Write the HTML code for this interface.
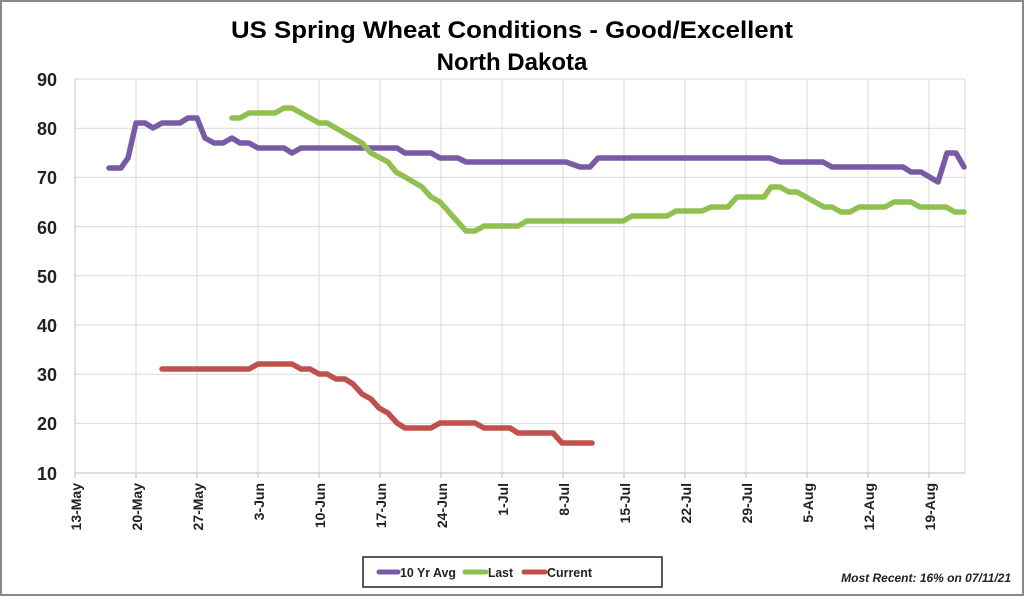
<!DOCTYPE html>
<html><head><style>body{margin:0;background:#fff}svg{display:block;font-family:"Liberation Sans",sans-serif}</style></head>
<body>
<svg width="1024" height="596" viewBox="0 0 1024 596">
<rect x="1" y="1" width="1022" height="594" fill="#fff" stroke="#888" stroke-width="2"/>
<text x="512" y="38" text-anchor="middle" font-size="24" font-weight="bold" textLength="562" lengthAdjust="spacingAndGlyphs">US Spring Wheat Conditions - Good/Excellent</text>
<text x="512" y="70" text-anchor="middle" font-size="24" font-weight="bold">North Dakota</text>
<g stroke="#d9d9d9" stroke-width="1">
<line x1="75" y1="79" x2="965" y2="79"/><line x1="75" y1="128.2" x2="965" y2="128.2"/><line x1="75" y1="177.4" x2="965" y2="177.4"/><line x1="75" y1="226.6" x2="965" y2="226.6"/><line x1="75" y1="275.8" x2="965" y2="275.8"/><line x1="75" y1="325" x2="965" y2="325"/><line x1="75" y1="374.2" x2="965" y2="374.2"/><line x1="75" y1="423.4" x2="965" y2="423.4"/>
<line x1="136" y1="79" x2="136" y2="473"/><line x1="197" y1="79" x2="197" y2="473"/><line x1="258" y1="79" x2="258" y2="473"/><line x1="319" y1="79" x2="319" y2="473"/><line x1="380" y1="79" x2="380" y2="473"/><line x1="441" y1="79" x2="441" y2="473"/><line x1="502" y1="79" x2="502" y2="473"/><line x1="563" y1="79" x2="563" y2="473"/><line x1="624" y1="79" x2="624" y2="473"/><line x1="685" y1="79" x2="685" y2="473"/><line x1="746" y1="79" x2="746" y2="473"/><line x1="807" y1="79" x2="807" y2="473"/><line x1="868" y1="79" x2="868" y2="473"/><line x1="929" y1="79" x2="929" y2="473"/><line x1="965" y1="79" x2="965" y2="473"/>
</g>
<line x1="75" y1="79" x2="75" y2="473" stroke="#bfbfbf"/>
<line x1="75" y1="473" x2="965" y2="473" stroke="#bfbfbf"/>
<g stroke="#bfbfbf"><line x1="75" y1="473" x2="75" y2="478"/><line x1="136" y1="473" x2="136" y2="478"/><line x1="197" y1="473" x2="197" y2="478"/><line x1="258" y1="473" x2="258" y2="478"/><line x1="319" y1="473" x2="319" y2="478"/><line x1="380" y1="473" x2="380" y2="478"/><line x1="441" y1="473" x2="441" y2="478"/><line x1="502" y1="473" x2="502" y2="478"/><line x1="563" y1="473" x2="563" y2="478"/><line x1="624" y1="473" x2="624" y2="478"/><line x1="685" y1="473" x2="685" y2="478"/><line x1="746" y1="473" x2="746" y2="478"/><line x1="807" y1="473" x2="807" y2="478"/><line x1="868" y1="473" x2="868" y2="478"/><line x1="929" y1="473" x2="929" y2="478"/></g>
<g font-size="18" font-weight="bold" text-anchor="end" fill="#222">
<text x="57" y="86">90</text><text x="57" y="135">80</text><text x="57" y="184">70</text><text x="57" y="234">60</text><text x="57" y="283">50</text><text x="57" y="332">40</text><text x="57" y="381">30</text><text x="57" y="430">20</text><text x="57" y="480">10</text>
</g>
<g font-size="14" font-weight="bold" text-anchor="end" fill="#222">
<text transform="translate(81,483) rotate(-90)">13-May</text><text transform="translate(142,483) rotate(-90)">20-May</text><text transform="translate(203,483) rotate(-90)">27-May</text><text transform="translate(264,483) rotate(-90)">3-Jun</text><text transform="translate(325,483) rotate(-90)">10-Jun</text><text transform="translate(386,483) rotate(-90)">17-Jun</text><text transform="translate(447,483) rotate(-90)">24-Jun</text><text transform="translate(508,483) rotate(-90)">1-Jul</text><text transform="translate(569,483) rotate(-90)">8-Jul</text><text transform="translate(630,483) rotate(-90)">15-Jul</text><text transform="translate(691,483) rotate(-90)">22-Jul</text><text transform="translate(752,483) rotate(-90)">29-Jul</text><text transform="translate(813,483) rotate(-90)">5-Aug</text><text transform="translate(874,483) rotate(-90)">12-Aug</text><text transform="translate(935,483) rotate(-90)">19-Aug</text>
</g>
<g fill="none" stroke-width="5.5" stroke-linejoin="round" stroke-linecap="round">
<polyline stroke="#7a5aa6" points="109,168 121,168 128,158 136,123 145,123 153,128 162,123 180,123 188,118 197,118 205,138 214,143 223,143 232,138 240,143 249,143 258,148 284,148 292,153 301,148 397,148 405,153 431,153 440,158 458,158 466,162 566,162 580,167 590,167 598,158 770,158 780,162 823,162 832,167 903,167 911,172 921,172 938,182 947,153 956,153 964,167"/>
<polyline stroke="#92c050" points="232,118 240,118 249,113 275,113 284,108 292,108 301,113 319,123 327,123 362,143 371,153 388,162 396,172 405,177 422,187 431,197 440,202 449,212 457,221 466,231 475,231 484,226 518,226 527,221 623,221 632,216 667,216 676,211 702,211 711,207 728,207 737,197 764,197 771,187 780,187 789,192 797,192 815,202 824,207 832,207 841,212 850,212 859,207 885,207 894,202 911,202 920,207 946,207 955,212 964,212"/>
<polyline stroke="#c0504d" points="162,369 249,369 258,364 292,364 301,369 310,369 319,374 327,374 336,379 345,379 353,384 362,394 371,399 379,408 388,413 397,423 405,428 431,428 440,423 475,423 484,428 510,428 518,433 553,433 562,443 592,443"/>
</g>
<rect x="363" y="557" width="299" height="30" fill="#fff" stroke="#222" stroke-width="1.5"/>
<g stroke-width="5" stroke-linecap="round"><line x1="379" y1="572" x2="398" y2="572" stroke="#7a5aa6"/><line x1="465" y1="572" x2="486" y2="572" stroke="#92c050"/><line x1="524" y1="572" x2="545" y2="572" stroke="#c0504d"/></g>
<g font-size="13" font-weight="bold" fill="#222"><text x="400" y="577" textLength="56" lengthAdjust="spacingAndGlyphs">10 Yr Avg</text><text x="488" y="577" textLength="25" lengthAdjust="spacingAndGlyphs">Last</text><text x="547" y="577" textLength="45" lengthAdjust="spacingAndGlyphs">Current</text></g>
<text x="1011" y="582" text-anchor="end" font-size="12" font-weight="bold" font-style="italic" fill="#222">Most Recent: 16% on 07/11/21</text>
</svg>
</body></html>
